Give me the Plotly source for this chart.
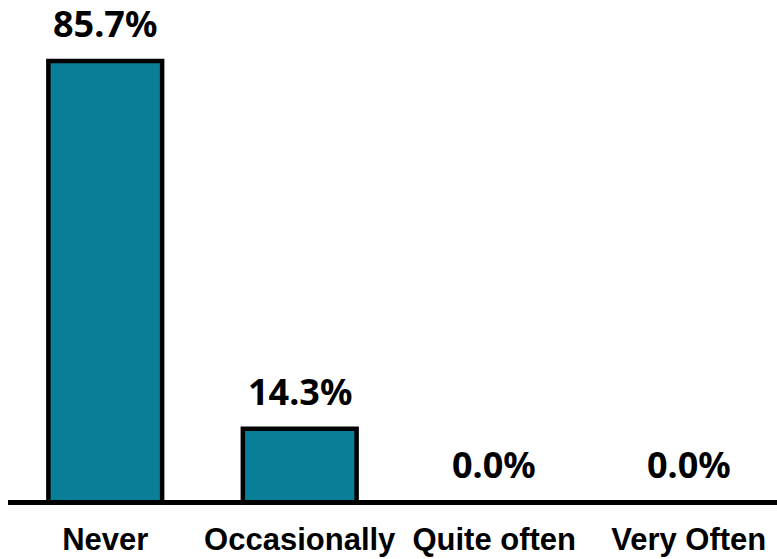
import plotly.graph_objects as go

categories = ["Never", "Occasionally", "Quite often", "Very Often"]
values = [85.7, 14.3, 0.0, 0.0]
labels = ["85.7%", "14.3%", "0.0%", "0.0%"]

fig = go.Figure()
fig.add_trace(go.Bar(
    x=categories, y=values,
    width=0.585,
    marker=dict(color="#087F97", line=dict(color="black", width=4.5)),
    hoverinfo="skip",
))

for c, v, t in zip(categories, values, labels):
    fig.add_annotation(
        x=c, y=v, text=t, showarrow=False, yanchor="bottom", yshift=11,
        font=dict(family="Noto Sans", size=36, color="black", weight="bold"),
    )

fig.update_layout(
    width=777, height=559,
    margin=dict(l=8, r=0, t=2, b=49, autoexpand=False),
    plot_bgcolor="white", paper_bgcolor="white",
    showlegend=False,
    xaxis=dict(range=[-0.5, 3.454], showline=False, showgrid=False, ticks="",
               automargin=False, ticklabelstandoff=8,
               tickfont=dict(family="Liberation Sans", size=31, color="black", weight="bold")),
    yaxis=dict(range=[-1.5, 97.14], showgrid=False, showticklabels=False, ticks="",
               automargin=False, layer="above traces",
               zeroline=True, zerolinecolor="black", zerolinewidth=5),
)

fig.write_html("out.html")
